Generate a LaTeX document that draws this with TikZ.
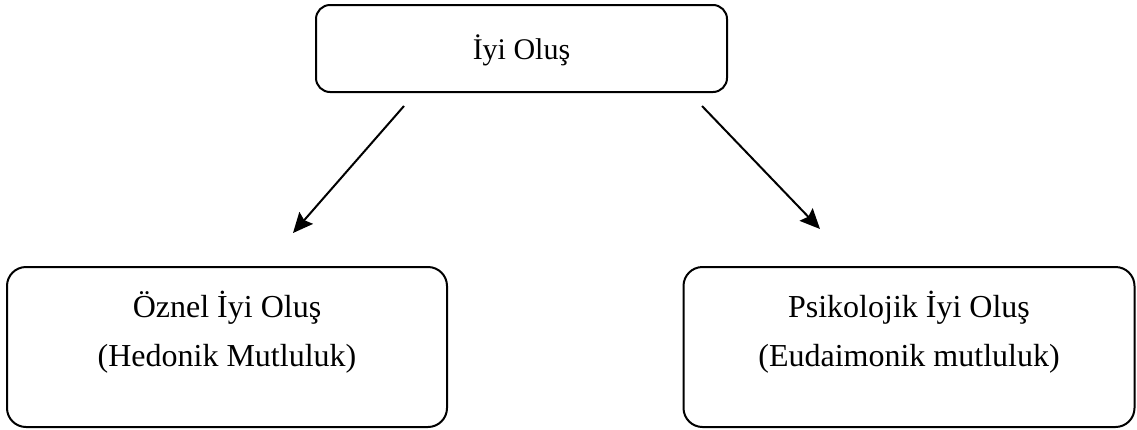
\documentclass[tikz,border=0pt]{standalone}
\usepackage{fontspec}
\setmainfont{Liberation Serif}
\usetikzlibrary{arrows.meta}
\begin{document}
\begin{tikzpicture}[x=1pt,y=-1pt,
  box/.style={draw=black,line width=2pt,rounded corners=19pt,minimum width=#1,minimum height=160pt,inner sep=0pt},
  txt/.style={anchor=base,inner sep=0pt,font=\fontsize{32}{38}\selectfont},
  arr/.style={line width=2pt,-{Stealth[length=20pt,width=18pt,inset=3pt]}}]
\useasboundingbox (0,0) rectangle (1137,429);
\node[box=411pt,minimum height=87pt,rounded corners=14pt] (top) at (521.5,48.5) {};
\node[box=440pt] (left) at (227,347) {};
\node[box=451pt] (right) at (909,347) {};
\node[txt,font=\fontsize{30}{36}\selectfont] (ttop) at (521.5,59) {İyi Oluş};
\node[txt] (tl1) at (227,317) {Öznel İyi Oluş};
\node[txt] (tl2) at (227,366) {(Hedonik Mutluluk)};
\node[txt] (tr1) at (909,317) {Psikolojik İyi Oluş};
\node[txt] (tr2) at (909,366) {(Eudaimonik mutluluk)};
\coordinate (ls) at (404,106);
\coordinate (le) at (293,233);
\coordinate (rs) at (702,106);
\coordinate (re) at (820,229);
\draw[arr] (ls) -- (le);
\draw[arr] (rs) -- (re);
\end{tikzpicture}
\end{document}
